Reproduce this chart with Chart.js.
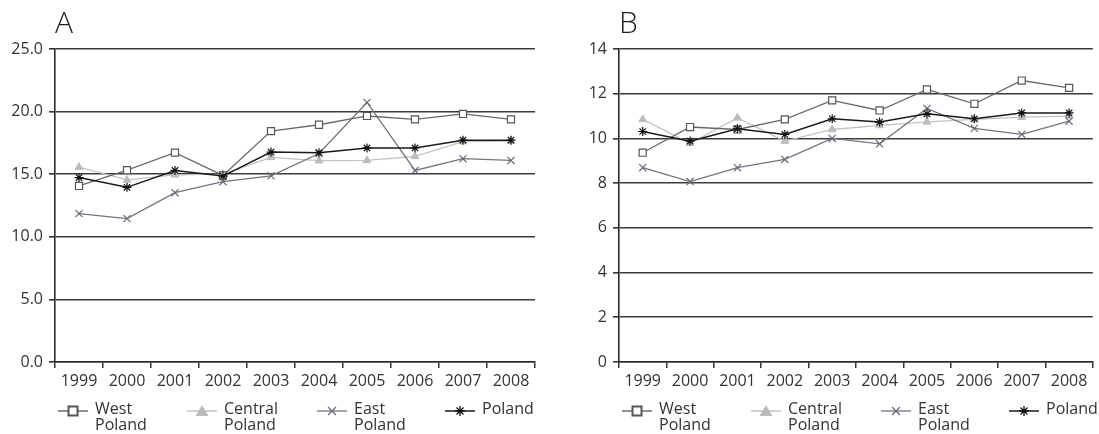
<!DOCTYPE html>
<html>
<head>
<meta charset="utf-8">
<script src="https://cdn.jsdelivr.net/npm/chart.js@4.4.0/dist/chart.umd.min.js"></script>
<style>
  body { margin: 0; background: #fff; width: 1099px; height: 434px; overflow: hidden; position: relative; font-family: 'Open Sans', sans-serif; }
  canvas { position: absolute; top: 0; }
  #chartA { left: 0; }
  #chartB { left: 550px; }
  .legend { position: absolute; top: 400px; height: 34px; }
  .item { position: absolute; top: 0; white-space: nowrap; }
  .item svg { position: absolute; left: 0; top: 3px; }
  .item span { position: absolute; left: 37px; top: 0; font-size: 16px; line-height: 16px; color: #333; }
</style>
</head>
<body>
<canvas id="chartA" width="550" height="434"></canvas>
<canvas id="chartB" width="549" height="434"></canvas>
<div class="legend" id="legendA" style="left:55px"></div>
<div class="legend" id="legendB" style="left:619px"></div>
<script>
const years = ['1999', '2000', '2001', '2002', '2003', '2004', '2005', '2006', '2007', '2008'];
const seriesNames = [['West', 'Poland'], ['Central', 'Poland'], ['East', 'Poland'], ['Poland']];

// Panel A
const westA = [14.06, 15.32, 16.72, 14.9, 18.44, 18.95, 19.65, 19.38, 19.81, 19.38];
const centralA = [15.56, 14.54, 14.95, 15.0, 16.34, 16.08, 16.1, 16.42, 17.6, 17.65];
const eastA = [11.85, 11.45, 13.52, 14.4, 14.87, 16.65, 20.73, 15.3, 16.24, 16.1];
const polandA = [14.73, 13.95, 15.3, 14.85, 16.77, 16.72, 17.1, 17.1, 17.72, 17.72];

// Panel B
const westB = [9.36, 10.51, 10.4, 10.85, 11.7, 11.25, 12.19, 11.55, 12.59, 12.26];
const centralB = [10.85, 9.78, 10.92, 9.88, 10.4, 10.58, 10.74, 10.85, 10.95, 11.0];
const eastB = [8.69, 8.07, 8.69, 9.06, 10.0, 9.76, 11.34, 10.45, 10.18, 10.77];
const polandB = [10.31, 9.88, 10.43, 10.18, 10.88, 10.73, 11.1, 10.88, 11.14, 11.14];

const ticksA = { min: 0, max: 25, step: 5, digits: 1 };
const ticksB = { min: 0, max: 14, step: 2, digits: 0 };

Chart.defaults.font.family = "'Open Sans', sans-serif";
Chart.defaults.font.size = 16;
Chart.defaults.color = '#333';

function makeDatasets(west, central, east, poland) {
    return [
        {
            label: 'West Poland', data: west, order: 2,
            borderColor: '#6a6a6a', borderWidth: 1.3,
            pointStyle: 'rect', pointRadius: 5, pointBorderWidth: 1.2,
            pointBackgroundColor: '#fff', pointBorderColor: '#555'
        },
        {
            label: 'Central Poland', data: central, order: 4,
            borderColor: '#c2c2c2', borderWidth: 1.3,
            pointStyle: 'triangle', pointRadius: 4.5, pointBorderWidth: 1,
            pointBackgroundColor: '#bcbcbc', pointBorderColor: '#bcbcbc'
        },
        {
            label: 'East Poland', data: east, order: 3,
            borderColor: '#77727d', borderWidth: 1.3,
            pointStyle: 'crossRot', pointRadius: 5, pointBorderWidth: 1.2,
            pointBorderColor: '#6e6877'
        },
        {
            label: 'Poland', data: poland, order: 1,
            borderColor: '#1a1a1a', borderWidth: 1.5,
            pointStyle: 'star', pointRadius: 4.5, pointBorderWidth: 1.2,
            pointBorderColor: '#111'
        }
    ];
}

function makeChart(id, title, datasets, t, axisWidth, padRight, rightBorder) {
    return new Chart(document.getElementById(id), {
        type: 'line',
        data: { labels: years, datasets: datasets },
        options: {
            responsive: false,
            animation: false,
            devicePixelRatio: 1,
            layout: { padding: { left: 0, right: padRight, top: 0, bottom: 42 } },
            plugins: {
                legend: { display: false },
                tooltip: { enabled: false },
                title: {
                    display: true, text: title, align: 'start', fullSize: false,
                    color: '#222', font: { size: 30, weight: '300' },
                    padding: { top: 6, bottom: 7 }
                }
            },
            scales: {
                x: {
                    offset: true,
                    afterFit: s => { s.height = 30; },
                    grid: {
                        offset: true, drawOnChartArea: true, drawTicks: true, tickLength: 6,
                        color: c => (rightBorder && c.index === years.length) ? '#444' : 'rgba(0,0,0,0)',
                        tickColor: '#333', lineWidth: 1.5
                    },
                    border: { display: true, color: '#2a2a2a', width: 1.6 },
                    ticks: { padding: 4, maxRotation: 0, autoSkip: false }
                },
                y: {
                    min: t.min, max: t.max,
                    afterFit: s => { s.width = axisWidth; },
                    grid: { color: '#3c3c3c', lineWidth: 1.6, drawTicks: true, tickLength: 6, tickColor: '#333' },
                    border: { display: true, color: '#2a2a2a', width: 1.6 },
                    ticks: { stepSize: t.step, padding: 6, callback: v => v.toFixed(t.digits) }
                }
            }
        }
    });
}

makeChart('chartA', 'A', makeDatasets(westA, centralA, eastA, polandA), ticksA, 55, 15, true);
makeChart('chartB', 'B', makeDatasets(westB, centralB, eastB, polandB), ticksB, 69, 0, false);

// legend symbols (svg), same for both panels
const symbols = [
    '<line x1="0" y1="8" x2="30" y2="8" stroke="#6a6a6a" stroke-width="1.5"/><rect x="10.5" y="3.5" width="9" height="9" fill="#fff" stroke="#555" stroke-width="2"/>',
    '<line x1="0" y1="8" x2="30" y2="8" stroke="#c2c2c2" stroke-width="1.5"/><polygon points="15,2 21.5,13 8.5,13" fill="#bcbcbc"/>',
    '<line x1="0" y1="8" x2="30" y2="8" stroke="#77727d" stroke-width="1.3"/><path d="M11,4 L19,12 M19,4 L11,12" stroke="#6e6877" stroke-width="1.3"/>',
    '<line x1="0" y1="8" x2="30" y2="8" stroke="#1a1a1a" stroke-width="1.5"/><path d="M15,3 L15,13 M10,8 L20,8 M11.5,4.5 L18.5,11.5 M18.5,4.5 L11.5,11.5" stroke="#111" stroke-width="1.3"/>'
];
const legendOffsets = [3, 132, 262, 390];

['legendA', 'legendB'].forEach(id => {
    const box = document.getElementById(id);
    seriesNames.forEach((name, i) => {
        const item = document.createElement('div');
        item.className = 'item';
        item.style.left = legendOffsets[i] + 'px';
        item.innerHTML = '<svg width="30" height="16">' + symbols[i] + '</svg><span>' + name.join('<br>') + '</span>';
        box.appendChild(item);
    });
});
</script>
</body>
</html>
